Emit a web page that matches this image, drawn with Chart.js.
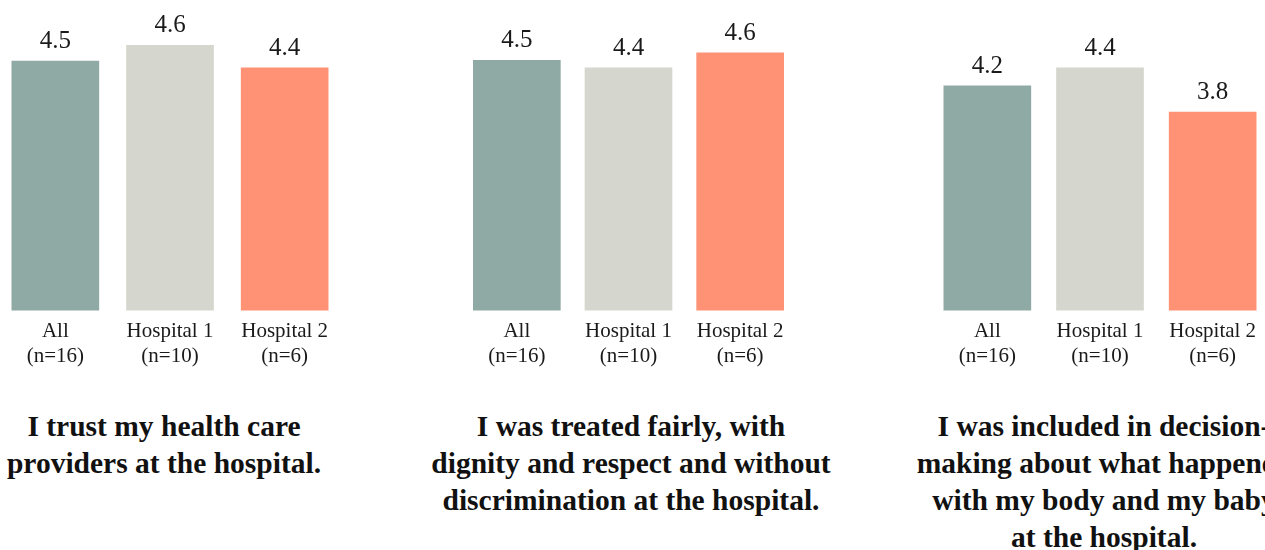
<!DOCTYPE html>
<html>
<head>
<meta charset="utf-8">
<script src="https://cdn.jsdelivr.net/npm/chart.js@4.4.1/dist/chart.umd.min.js"></script>
<style>
  html, body { margin: 0; padding: 0; background: #fff; }
  body { position: relative; width: 1265px; height: 550px; overflow: hidden; }
  canvas { position: absolute; top: 0; }
  .title {
    position: absolute; top: 408px; width: 540px; text-align: center;
    font-family: "Liberation Serif", serif; font-weight: bold;
    font-size: 29.5px; line-height: 37px; color: #111; white-space: nowrap;
  }
</style>
</head>
<body>
<canvas id="c1" width="344" height="369" style="left:-2px"></canvas>
<canvas id="c2" width="335" height="369" style="left:461px"></canvas>
<canvas id="c3" width="338" height="369" style="left:931px"></canvas>
<div class="title" style="left:-106px">I trust my health care<br>providers at the hospital.</div>
<div class="title" style="left:361px">I was treated fairly, with<br>dignity and respect and without<br>discrimination at the hospital.</div>
<div class="title" style="left:834px">I was included in decision-<br>making about what happened<br>with my body and my baby<br>at the hospital.</div>
<script>
const categories = [["All", "(n=16)"], ["Hospital 1", "(n=10)"], ["Hospital 2", "(n=6)"]];
const barColors = ["#8fa9a5", "#d5d6cd", "#ff9275"];

// mean scores (bar heights) and the rounded labels printed above them
const trustValues = [4.50, 4.71, 4.41];
const trustLabels = ["4.5", "4.6", "4.4"];
const fairValues = [4.51, 4.41, 4.61];
const fairLabels = ["4.5", "4.4", "4.6"];
const decisionValues = [4.17, 4.41, 3.82];
const decisionLabels = ["4.2", "4.4", "3.8"];

const valueLabels = {
  id: "valueLabels",
  afterDatasetsDraw(chart, args, opts) {
    const ctx = chart.ctx;
    ctx.save();
    ctx.font = "25px 'Liberation Serif', serif";
    ctx.fillStyle = "#1a1a1a";
    ctx.textAlign = "center";
    ctx.textBaseline = "alphabetic";
    chart.getDatasetMeta(0).data.forEach((bar, i) => {
      ctx.fillText(opts.labels[i], bar.x, bar.y - 13);
    });
    ctx.restore();
  }
};

function makeChart(id, values, labels) {
  new Chart(document.getElementById(id), {
    type: "bar",
    data: {
      labels: categories,
      datasets: [{
        data: values,
        backgroundColor: barColors,
        barThickness: 87,
        borderWidth: 0
      }]
    },
    options: {
      responsive: false,
      animation: false,
      layout: { padding: 0 },
      plugins: {
        legend: { display: false },
        tooltip: { enabled: false },
        valueLabels: { labels }
      },
      scales: {
        x: {
          grid: { display: false },
          border: { display: false },
          ticks: {
            color: "#1a1a1a",
            padding: 0,
            font: { family: "'Liberation Serif', serif", size: 21, lineHeight: 1.2 }
          }
        },
        y: {
          display: false,
          min: 1.18,
          max: 5.313
        }
      }
    },
    plugins: [valueLabels]
  });
}

makeChart("c1", trustValues, trustLabels);
makeChart("c2", fairValues, fairLabels);
makeChart("c3", decisionValues, decisionLabels);
</script>
</body>
</html>
